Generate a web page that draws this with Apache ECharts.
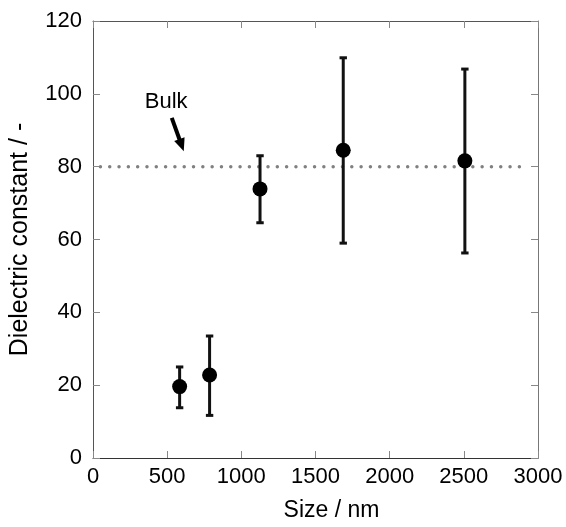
<!DOCTYPE html>
<html>
<head>
<meta charset="utf-8">
<script src="https://cdn.jsdelivr.net/npm/echarts@6/dist/echarts.min.js"></script>
<style>html,body{margin:0;padding:0;background:#fff}#c{width:566px;height:527px}</style>
</head>
<body>
<div id="c"></div>
<script>
// Data
var sizes = [584, 786, 1126, 1687, 2507];
var values = [19.6, 22.8, 73.9, 84.5, 81.6];
var errLow = [13.8, 11.7, 64.6, 59.0, 56.3];
var errHigh = [25.0, 33.5, 83.0, 109.9, 106.8];
var bulkValue = 80;
var bulkRange = [50, 2880];
var bulkLabel = 'Bulk';
var bulkLabelPos = [493, 97.7];
var arrowFrom = [531, 93.4];
var arrowTo = [612, 84.2];
var xTicks = [0, 500, 1000, 1500, 2000, 2500, 3000];
var yTicks = [0, 20, 40, 60, 80, 100, 120];

var FONT = '"Liberation Sans", Arial, sans-serif';
var chart = echarts.init(document.getElementById('c'), null, {renderer: 'canvas'});

var points = sizes.map(function (s, i) { return [s, values[i]]; });
var errData = sizes.map(function (s, i) { return [s, errLow[i], errHigh[i]]; });

var tickStyle = {show: true, inside: true, length: 7, lineStyle: {color: '#888', width: 1}};
function axLine(c) { return {show: true, onZero: false, lineStyle: {color: c, width: 1}}; }
var plain = function (v) { return String(v); };

var option = {
  animation: false,
  backgroundColor: '#fff',
  grid: {left: 93, right: 28, top: 21, bottom: 62, containLabel: false},
  xAxis: [{
    type: 'value', min: xTicks[0], max: xTicks[xTicks.length - 1], interval: 500,
    name: 'Size / nm', nameLocation: 'middle', nameGap: 41,
    nameTextStyle: {fontFamily: FONT, fontSize: 23, color: '#000', padding: [0, 0, 0, 32]},
    axisLine: axLine('#333'), axisTick: tickStyle,
    axisLabel: {fontFamily: FONT, fontSize: 22, color: '#000', margin: 8, formatter: plain},
    splitLine: {show: false}
  }, {
    type: 'value', position: 'top', min: 0, max: 3000, interval: 500,
    axisLine: axLine('#555'), axisTick: tickStyle, axisLabel: {show: false}, splitLine: {show: false}
  }],
  yAxis: [{
    type: 'value', min: yTicks[0], max: yTicks[yTicks.length - 1], interval: 20,
    name: 'Dielectric constant / -', nameLocation: 'middle', nameGap: 60,
    nameTextStyle: {fontFamily: FONT, fontSize: 25, color: '#000'},
    axisLine: axLine('#555'), axisTick: tickStyle,
    axisLabel: {fontFamily: FONT, fontSize: 22, color: '#000', margin: 11, formatter: plain},
    splitLine: {show: false}
  }, {
    type: 'value', position: 'right', min: 0, max: 120, interval: 20,
    axisLine: axLine('#777'), axisTick: tickStyle,
    axisLabel: {show: false}, splitLine: {show: false}
  }],
  series: [
    {
      type: 'line', name: 'Bulk', data: [[bulkRange[0], bulkValue], [bulkRange[1], bulkValue]],
      symbol: 'none', silent: true, z: 1,
      lineStyle: {color: '#808080', width: 3.5, type: [0.01, 9.3], cap: 'round'}
    },
    {
      type: 'custom', name: 'error', data: errData, z: 3,
      renderItem: function (params, api) {
        var x = api.value(0);
        var lo = api.coord([x, api.value(1)]);
        var hi = api.coord([x, api.value(2)]);
        var hw = 3.7;
        var st = {stroke: '#111', lineWidth: 3};
        return {
          type: 'group',
          children: [
            {type: 'line', shape: {x1: lo[0], y1: lo[1], x2: hi[0], y2: hi[1]}, style: st},
            {type: 'line', shape: {x1: lo[0] - hw, y1: lo[1], x2: lo[0] + hw, y2: lo[1]}, style: st},
            {type: 'line', shape: {x1: hi[0] - hw, y1: hi[1], x2: hi[0] + hw, y2: hi[1]}, style: st}
          ]
        };
      }
    },
    {
      type: 'scatter', name: 'data', data: points, symbol: 'circle', symbolSize: 15, z: 4,
      itemStyle: {color: '#000', opacity: 1}
    },
    {
      type: 'custom', name: 'arrow', data: [[arrowFrom[0], arrowFrom[1], arrowTo[0], arrowTo[1]]], z: 5,
      renderItem: function (params, api) {
        var a = api.coord([api.value(0), api.value(1)]);
        var b = api.coord([api.value(2), api.value(3)]);
        var dx = b[0] - a[0], dy = b[1] - a[1];
        var len = Math.sqrt(dx * dx + dy * dy);
        var ux = dx / len, uy = dy / len;
        var hl = 13, hw = 5.5;
        var bx = b[0] - ux * hl, by = b[1] - uy * hl;
        return {
          type: 'group',
          children: [
            {type: 'line', shape: {x1: a[0], y1: a[1], x2: bx + ux * 2, y2: by + uy * 2}, style: {stroke: '#000', lineWidth: 4}},
            {type: 'polygon', shape: {points: [[b[0], b[1]], [bx - uy * hw, by + ux * hw], [bx + uy * hw, by - ux * hw]]}, style: {fill: '#000'}}
          ]
        };
      }
    },
    {
      type: 'scatter', name: 'label', data: [bulkLabelPos], symbolSize: 0, silent: true,
      itemStyle: {opacity: 1},
      label: {show: true, position: 'inside', formatter: bulkLabel, fontFamily: FONT, fontSize: 22, color: '#000'}
    }
  ]
};
chart.setOption(option);
</script>
</body>
</html>
